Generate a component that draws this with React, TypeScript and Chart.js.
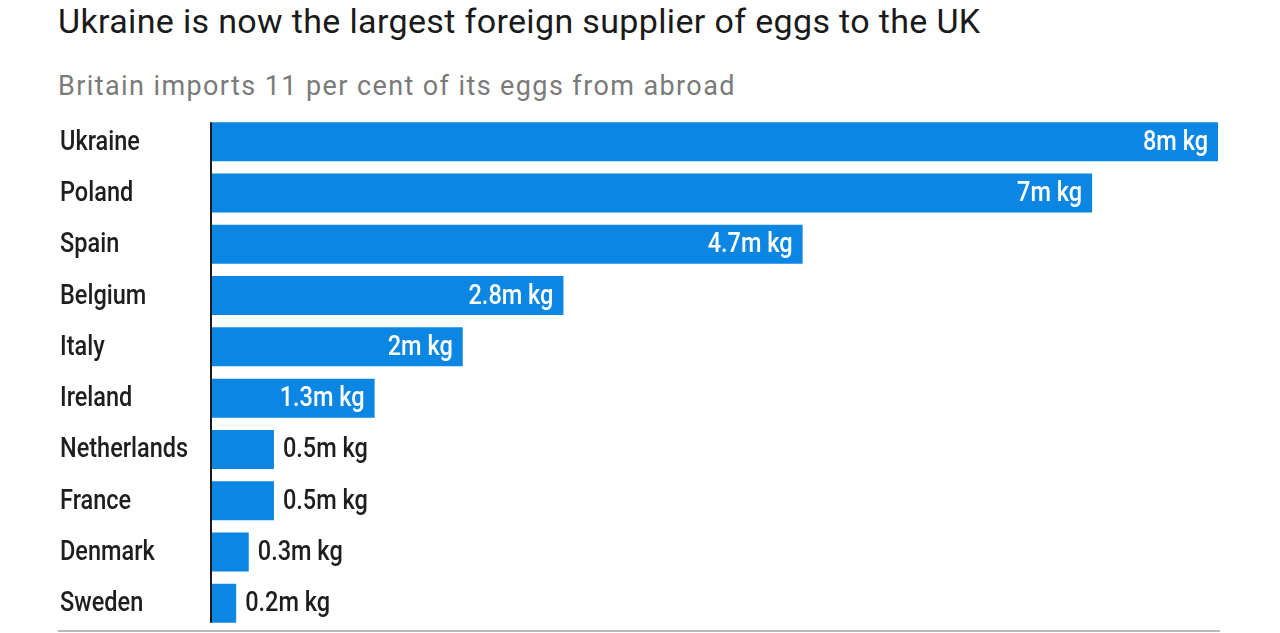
import React, { useEffect, useRef } from "react";
import { Chart, registerables } from "chart.js";

Chart.register(...registerables);

const countries = ["Ukraine", "Poland", "Spain", "Belgium", "Italy", "Ireland", "Netherlands", "France", "Denmark", "Sweden"];
const exportsMkg = [8, 7, 4.7, 2.8, 2, 1.3, 0.5, 0.5, 0.3, 0.2];
const valueLabels = ["8m kg", "7m kg", "4.7m kg", "2.8m kg", "2m kg", "1.3m kg", "0.5m kg", "0.5m kg", "0.3m kg", "0.2m kg"];

const TITLE = "Ukraine is now the largest foreign supplier of eggs to the UK";
const SUBTITLE = "Britain imports 11 per cent of its eggs from abroad";

const BAR_COLOR = "#0b86e3";
const LABEL_FONT = "500 28px Roboto, 'Noto Sans', sans-serif";
const SQUEEZE = 0.84;

function drawSqueezed(ctx: CanvasRenderingContext2D, text: string, x: number, y: number, align: CanvasTextAlign, color: string) {
  ctx.save();
  ctx.translate(x, y);
  ctx.scale(SQUEEZE, 1);
  ctx.font = LABEL_FONT;
  ctx.textBaseline = "middle";
  ctx.textAlign = align;
  ctx.fillStyle = color;
  ctx.fillText(text, 0, 0);
  ctx.restore();
}

export default function App() {
  const canvasRef = useRef<HTMLCanvasElement | null>(null);

  useEffect(() => {
    document.body.style.margin = "0";
    const canvas = canvasRef.current;
    if (!canvas) return;

    const decorations = {
      id: "decorations",
      afterDatasetsDraw(chart: any) {
        const ctx: CanvasRenderingContext2D = chart.ctx;
        const meta = chart.getDatasetMeta(0);
        const area = chart.chartArea;
        const yScale = chart.scales.y;
        const labels: string[] = chart.data.labels;

        // category labels
        labels.forEach((lab, i) => {
          drawSqueezed(ctx, lab, 60, yScale.getPixelForValue(i) + 1, "left", "#1e1e1e");
        });

        // value labels
        meta.data.forEach((bar: any, i: number) => {
          const p = bar.getProps(["x", "y", "base"], true);
          const text = valueLabels[i];
          if (exportsMkg[i] >= 1) {
            drawSqueezed(ctx, text, p.x - 10, p.y + 1, "right", "#ffffff");
          } else {
            drawSqueezed(ctx, text, p.x + 9, p.y + 1, "left", "#1e1e1e");
          }
        });

        ctx.save();
        // vertical axis line spanning bars
        const first: any = meta.data[0];
        const last: any = meta.data[meta.data.length - 1];
        const top = first.y - first.height / 2;
        const bottom = last.y + last.height / 2;
        const x0 = first.base;
        ctx.strokeStyle = "#1a1a1a";
        ctx.lineWidth = 2;
        ctx.beginPath();
        ctx.moveTo(x0, top);
        ctx.lineTo(x0, bottom);
        ctx.stroke();
        // bottom rule
        ctx.strokeStyle = "#b8b8b8";
        ctx.lineWidth = 2;
        ctx.beginPath();
        ctx.moveTo(58, area.bottom + 2);
        ctx.lineTo(1220, area.bottom + 2);
        ctx.stroke();
        ctx.restore();
      },
    };

    const chart = new Chart(canvas, {
      type: "bar",
      data: {
        labels: countries,
        datasets: [
          {
            data: exportsMkg,
            backgroundColor: BAR_COLOR,
            borderWidth: 0,
            barPercentage: 0.76,
            categoryPercentage: 1,
          },
        ],
      },
      options: {
        indexAxis: "y",
        animation: false,
        responsive: false,
        maintainAspectRatio: false,
        layout: { padding: { left: 211, right: 62, top: 16, bottom: 4 } },
        plugins: {
          legend: { display: false },
          tooltip: { enabled: false },
          title: { display: false },
        },
        scales: {
          x: { min: 0, max: 8, display: false, grid: { display: false } },
          y: { display: false, grid: { display: false } },
        },
      },
      plugins: [decorations],
    } as any);

    return () => chart.destroy();
  }, []);

  return (
    <div style={{ position: "relative", width: 1280, height: 633, background: "#fff", overflow: "hidden" }}>
      <div
        style={{
          position: "absolute",
          left: 58,
          top: 1,
          fontFamily: "Roboto, 'Noto Sans', sans-serif",
          fontSize: 34,
          lineHeight: "40px",
          letterSpacing: "0.35px",
          color: "#1a1a1a",
          whiteSpace: "nowrap",
        }}
      >
        {TITLE}
      </div>
      <div
        style={{
          position: "absolute",
          left: 58,
          top: 70,
          fontFamily: "Roboto, 'Noto Sans', sans-serif",
          fontSize: 27,
          lineHeight: "32px",
          letterSpacing: "1.4px",
          color: "#7a7a7a",
          whiteSpace: "nowrap",
        }}
      >
        {SUBTITLE}
      </div>
      <canvas
        ref={canvasRef}
        width={1280}
        height={533}
        style={{ position: "absolute", left: 0, top: 100, width: 1280, height: 533 }}
      />
    </div>
  );
}
